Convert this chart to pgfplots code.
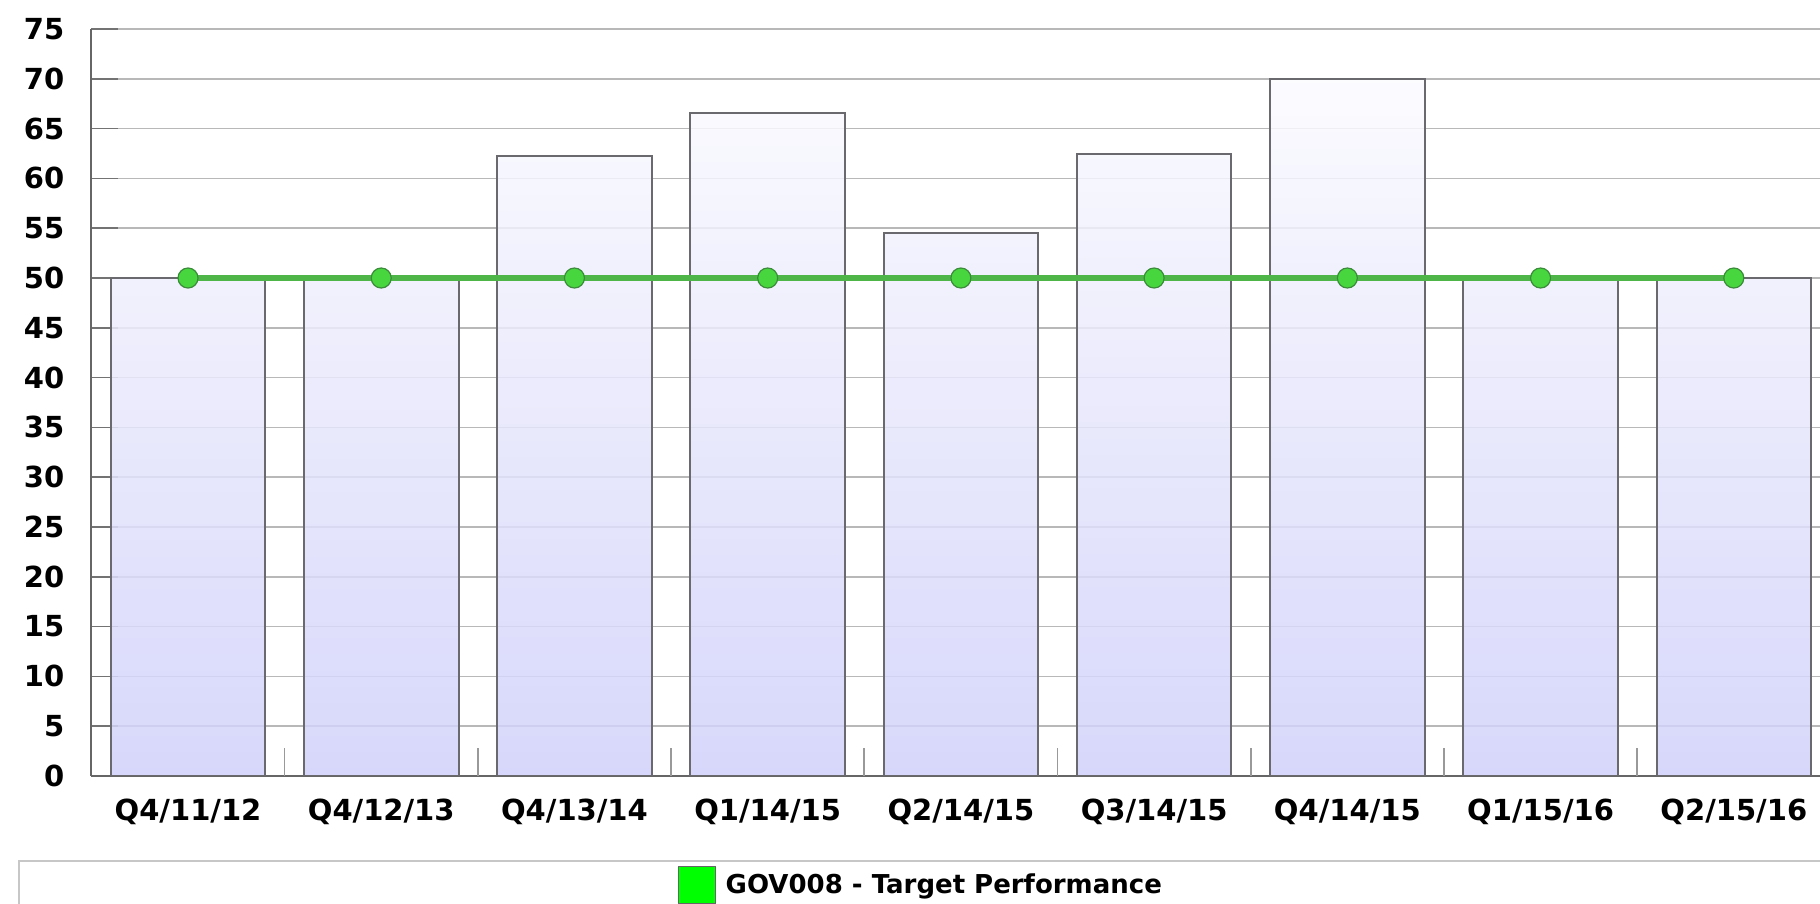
\documentclass[border=0pt]{standalone}
\usepackage{pgfplots}
\pgfplotsset{compat=1.18}
\usepackage{fontspec}
\setmainfont{DejaVu Sans}
\definecolor{barBot}{RGB}{208,208,250}
\definecolor{barTop}{RGB}{253,253,255}
\definecolor{barEdge}{RGB}{105,105,110}
\definecolor{lineGreen}{RGB}{78,182,72}
\definecolor{markGreen}{RGB}{72,214,62}
\definecolor{markEdge}{RGB}{58,140,58}
\definecolor{legGreen}{RGB}{0,255,0}
\begin{document}
\begin{tikzpicture}
\useasboundingbox (0pt,0pt) rectangle (910pt,452pt);
\clip (0pt,0pt) rectangle (910pt,452pt);
\begin{axis}[
  at={(45.7pt,64pt)}, anchor=south west,
  scale only axis, width=869.5pt, height=373.5pt,
  xmin=-0.5, xmax=8.5, ymin=0, ymax=75,
  axis x line=bottom, axis y line=left,
  axis line style={-, draw=black!60, line width=1pt},
  ytick={0,5,...,75},
  xtick={0,...,8},
  xticklabels={Q4/11/12,Q4/12/13,Q4/13/14,Q1/14/15,Q2/14/15,Q3/14/15,Q4/14/15,Q1/15/16,Q2/15/16},
  xtick style={draw=none},
  ytick style={draw=black!55, line width=0.8pt},
  tick align=inside, major tick length=13.5pt,
  ymajorgrids, grid style={draw=black!28, line width=0.75pt},
  /pgf/number format/assume math mode=true,
  tick label style={font=\bfseries\fontsize{14.5}{16}\selectfont, text=black},
  yticklabel style={xshift=-10pt},
  xticklabel style={yshift=-8pt},
  legend style={at={(0.3368,-0.1459)}, anchor=west, draw=none, fill=none,
    inner sep=0pt, font=\bfseries\fontsize{13}{15}\selectfont,
    /tikz/every odd column/.append style={column sep=3pt}},
]
% bars (each bar shaded by its height)
\addplot[ybar, bar width=0.8, bar shift=0pt, draw=barEdge, line width=1pt, bottom color=barBot, top color=barTop!68!barBot, fill opacity=0.85, forget plot] coordinates {(0,50)};
\addplot[ybar, bar width=0.8, bar shift=0pt, draw=barEdge, line width=1pt, bottom color=barBot, top color=barTop!68!barBot, fill opacity=0.85, forget plot] coordinates {(1,50)};
\addplot[ybar, bar width=0.8, bar shift=0pt, draw=barEdge, line width=1pt, bottom color=barBot, top color=barTop!84!barBot, fill opacity=0.85, forget plot] coordinates {(2,62.2)};
\addplot[ybar, bar width=0.8, bar shift=0pt, draw=barEdge, line width=1pt, bottom color=barBot, top color=barTop!90!barBot, fill opacity=0.85, forget plot] coordinates {(3,66.6)};
\addplot[ybar, bar width=0.8, bar shift=0pt, draw=barEdge, line width=1pt, bottom color=barBot, top color=barTop!74!barBot, fill opacity=0.85, forget plot] coordinates {(4,54.5)};
\addplot[ybar, bar width=0.8, bar shift=0pt, draw=barEdge, line width=1pt, bottom color=barBot, top color=barTop!84!barBot, fill opacity=0.85, forget plot] coordinates {(5,62.5)};
\addplot[ybar, bar width=0.8, bar shift=0pt, draw=barEdge, line width=1pt, bottom color=barBot, top color=barTop!95!barBot, fill opacity=0.85, forget plot] coordinates {(6,70)};
\addplot[ybar, bar width=0.8, bar shift=0pt, draw=barEdge, line width=1pt, bottom color=barBot, top color=barTop!68!barBot, fill opacity=0.85, forget plot] coordinates {(7,50)};
\addplot[ybar, bar width=0.8, bar shift=0pt, draw=barEdge, line width=1pt, bottom color=barBot, top color=barTop!68!barBot, fill opacity=0.85, forget plot] coordinates {(8,50)};
% separator ticks between categories
\addplot[ycomb, draw=black!40, line width=0.8pt, mark=none, forget plot] coordinates {(0.5,2.8) (1.5,2.8) (2.5,2.8) (3.5,2.8) (4.5,2.8) (5.5,2.8) (6.5,2.8) (7.5,2.8)};
% target line
\addplot[color=lineGreen, line width=2.8pt, mark=*, mark size=5pt,
  mark options={fill=markGreen, draw=markEdge, line width=0.6pt},
  legend image code/.code={\draw[fill=legGreen, draw=black!60, line width=0.6pt] (0pt,-9.25pt) rectangle (18.5pt,9.25pt);}]
  coordinates {(0,50) (1,50) (2,50) (3,50) (4,50) (5,50) (6,50) (7,50) (8,50)};
\addlegendentry{GOV008 - Target Performance}
\end{axis}
\draw[black!22, line width=1pt] (9.5pt,21.5pt) rectangle (930pt,-10pt);
\end{tikzpicture}
\end{document}
